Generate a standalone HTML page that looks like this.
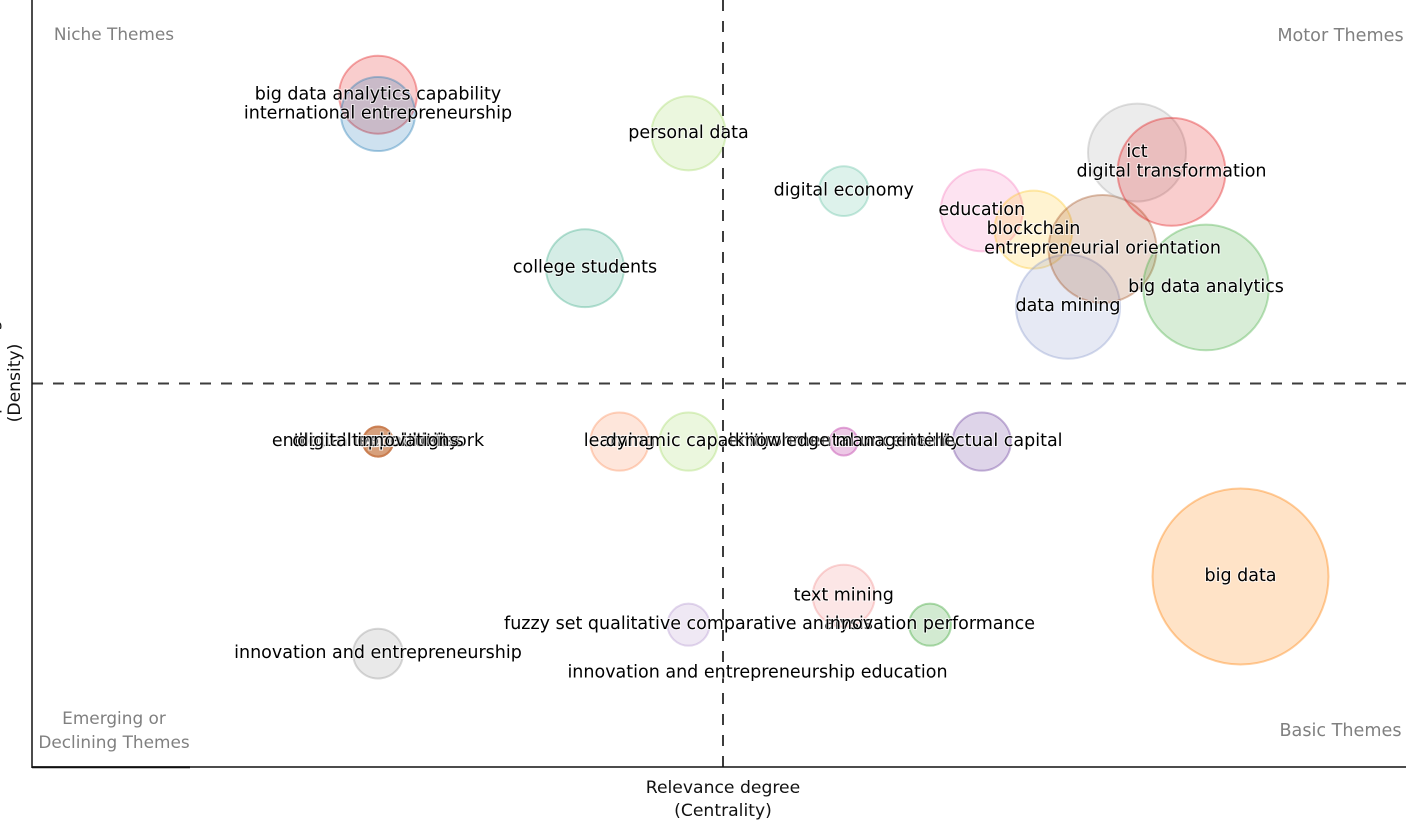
<!DOCTYPE html>
<html lang="en">
<head>
<meta charset="utf-8">
<title>Strategic thematic map</title>
<style>
html,body{margin:0;padding:0;background:#fff;width:1406px;height:821px;overflow:hidden}
svg{display:block}
text{font-family:"DejaVu Sans","Liberation Sans",sans-serif}
.label{font-size:17.5px;fill:#000;text-anchor:middle;dominant-baseline:central;paint-order:stroke;stroke:rgba(255,255,255,.65);stroke-width:2px}
.quad{font-size:16.9px;fill:#808080;text-anchor:middle}
.quad-right{font-size:17.6px}
.axis-title{font-size:17.2px;fill:#111;text-anchor:middle}
#labels{filter:blur(.3px)}
</style>
</head>
<body>
<svg id="chart" width="1406" height="821" viewBox="0 0 1406 821" xmlns="http://www.w3.org/2000/svg">
  <g id="bubbles"></g>
  <line x1="32" y1="383.5" x2="1406" y2="383.5" stroke="#3c3c3c" stroke-width="2" stroke-dasharray="11 10"/>
  <line x1="723" y1="0" x2="723" y2="767" stroke="#3c3c3c" stroke-width="2" stroke-dasharray="11 10"/>
  <line x1="32" y1="0" x2="32" y2="768" stroke="#111" stroke-width="1.5"/>
  <line x1="32" y1="767" x2="1406" y2="767" stroke="#111" stroke-width="1.5"/>
  <line x1="32" y1="767.3" x2="190" y2="767.3" stroke="#111" stroke-width="2"/>
  <g id="labels"></g>
  <text class="quad" x="114" y="40">Niche Themes</text>
  <text class="quad quad-right" x="1340.5" y="41">Motor Themes</text>
  <text class="quad quad-right" x="1340.5" y="736">Basic Themes</text>
  <text class="quad" x="114" y="724">Emerging or</text>
  <text class="quad" x="114" y="748">Declining Themes</text>
  <text class="axis-title" x="723" y="793">Relevance degree</text>
  <text class="axis-title" x="723" y="816">(Centrality)</text>
  <text class="axis-title" transform="translate(-2 383) rotate(-90)">Development degree</text>
  <text class="axis-title" transform="translate(20 383) rotate(-90)">(Density)</text>
</svg>
<script>
const themes = ["big data analytics capability","international entrepreneurship","personal data","digital economy","college students","education","blockchain","data mining","entrepreneurial orientation","big data analytics","ict","digital transformation","entrepreneurial network","digital capabilities","digital technologies","digital opportunity","digital innovations","learning","dynamic capability","environmental uncertainty","knowledge management","intellectual capital","big data","text mining","fuzzy set qualitative comparative analysis","innovation performance","innovation and entrepreneurship","innovation and entrepreneurship education"];
const centrality = [0,0,9,13.5,6,17.5,19,20,21,24,22,23,0,0,0,0,0,7,9,13.5,13.5,17.5,25,13.5,9,16,0,11];
const density = [25,24,23,20,16,19,18,14,17,15,22,21,7,7,7,7,7,7,7,7,7,7,0,-1,-2.5,-2.5,-4,-5];
const frequency = [19.6,17.7,17.7,8,19.6,21.7,19.6,35,37.6,51,31,37.6,2.9,2.9,2.9,2.9,2.9,10.9,10.9,2.5,2.5,10.9,100,12.4,5.7,5.7,8,0];

const palette = ["#e31a1c","#1f78b4","#a6d96a","#66c2a5","#41ae8c","#f781bf","#fdc82f","#8c9ccc","#a65628","#4daf4a","#aaaaaa","#e31a1c","#c8794a","#c8794a","#c8794a","#c8794a","#c8794a","#fc8d59","#a6d96a","#d070c0","#d070c0","#6a3d9a","#ff7f00","#f28e8e","#b497cf","#33a02c","#999999","#cccccc"];
const SVG_NS = "http://www.w3.org/2000/svg";
function xScale(v){ return 378 + v * 34.5; }
function yScale(v){ return 576 - v * 19.27; }
function rScale(v){ return 8.8 * Math.sqrt(v); }
const bubbleLayer = document.getElementById("bubbles");
const labelLayer = document.getElementById("labels");
themes.forEach(function(theme, i){
  const c = document.createElementNS(SVG_NS, "circle");
  c.setAttribute("cx", xScale(centrality[i]));
  c.setAttribute("cy", yScale(density[i]) + 0.5);
  c.setAttribute("r", rScale(frequency[i]));
  c.setAttribute("fill", palette[i]);
  c.setAttribute("fill-opacity", "0.22");
  c.setAttribute("stroke", palette[i]);
  c.setAttribute("stroke-opacity", "0.38");
  c.setAttribute("stroke-width", "2");
  
  
  bubbleLayer.appendChild(c);
  const t = document.createElementNS(SVG_NS, "text");
  t.setAttribute("class", "label");
  t.setAttribute("x", xScale(centrality[i]));
  t.setAttribute("y", yScale(density[i]));
  t.textContent = theme;
  
  
  labelLayer.appendChild(t);
});
</script>
</body>
</html>
